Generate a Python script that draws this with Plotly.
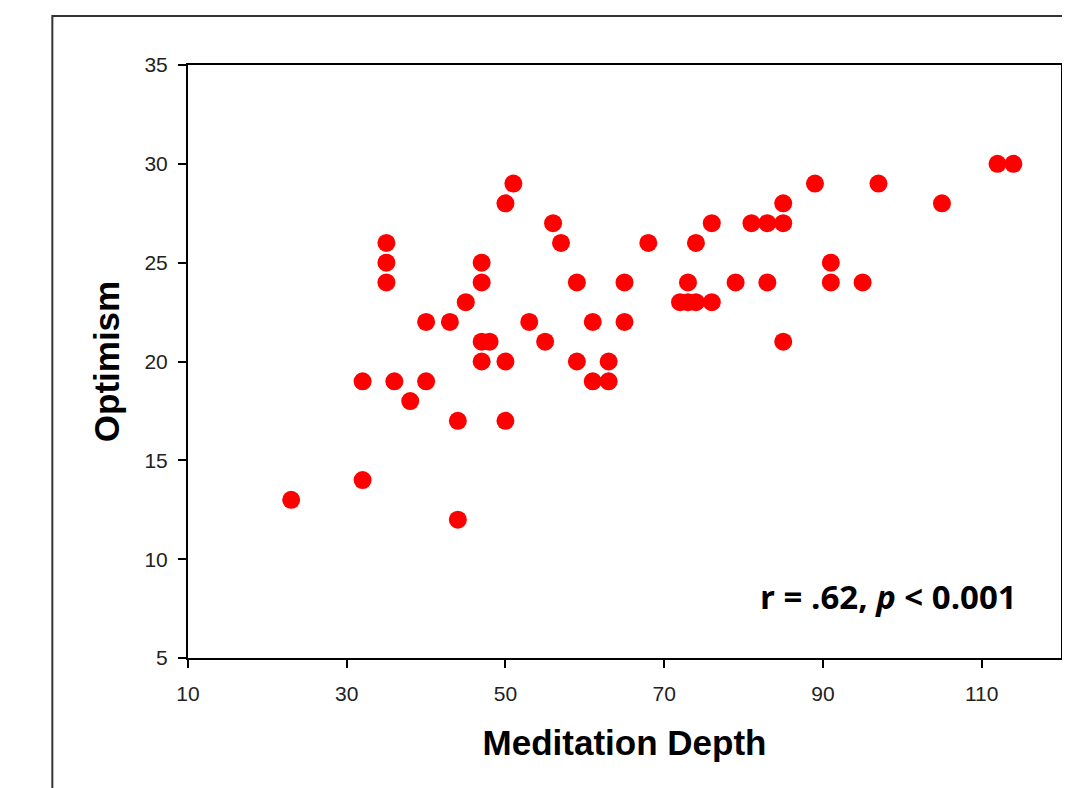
import plotly.graph_objects as go

# Meditation depth vs optimism, one entry per participant
meditation_depth = [23, 32, 32, 35, 35, 35, 36, 38, 40, 40,
                    43, 44, 44, 45, 47, 47, 47, 47, 48, 50,
                    50, 50, 51, 53, 55, 56, 57, 59, 59, 61,
                    61, 63, 63, 65, 65, 68, 72, 73, 73, 74,
                    74, 76, 76, 79, 81, 83, 83, 85, 85, 85,
                    89, 91, 91, 95, 97, 105, 112, 114]
optimism = [13, 19, 14, 26, 25, 24, 19, 18, 22, 19,
            22, 17, 12, 23, 25, 24, 21, 20, 21, 28,
            20, 17, 29, 22, 21, 27, 26, 24, 20, 22,
            19, 20, 19, 24, 22, 26, 23, 24, 23, 23,
            26, 27, 23, 24, 27, 27, 24, 28, 27, 21,
            29, 25, 24, 24, 29, 28, 30, 30]

x_ticks = [10, 30, 50, 70, 90, 110]
y_ticks = [5, 10, 15, 20, 25, 30, 35]

fig = go.Figure()
fig.add_trace(go.Scatter(
    x=meditation_depth, y=optimism, mode="markers",
    marker=dict(size=18, color="#FF0000", line=dict(width=0)),
    showlegend=False, cliponaxis=False,
))

axis_common = dict(
    showgrid=False, zeroline=False, showline=True, linecolor="black",
    linewidth=2, mirror=True, ticks="outside", ticklen=8, tickwidth=2,
    tickcolor="black", tickfont=dict(family="Liberation Sans", size=21, color="#222"),
)

fig.update_xaxes(
    range=[10, 120], tickvals=x_ticks, ticklabelstandoff=8,
    title=dict(text="<b>Meditation Depth</b>", standoff=26,
               font=dict(family="Liberation Sans", size=35, color="black")),
    **axis_common,
)
fig.update_yaxes(
    range=[5, 35], tickvals=y_ticks, ticklabelstandoff=6,
    title=dict(text="<b>Optimism</b>", standoff=14,
               font=dict(family="Liberation Sans", size=35, color="black")),
    **axis_common,
)

# correlation label
fig.add_annotation(
    xref="paper", yref="paper", x=0.952, y=0.103, xanchor="right", yanchor="middle",
    text="<b>r = .62, <i>p</i> < 0.001</b>", showarrow=False,
    font=dict(family="Open Sans", size=33, color="black"),
)

# outer frame running off the page
fig.add_shape(type="rect", xref="paper", yref="paper",
              x0=-0.1554, y0=-0.4, x1=1.3, y1=1.0826,
              line=dict(color="#333", width=2))

# page body adds an 8px margin, so the figure is a bit smaller than the window
fig.update_layout(
    width=1062, height=780,
    margin=dict(l=180, r=7, t=57, b=130),
    paper_bgcolor="white", plot_bgcolor="white",
)

fig.write_html("out.html")
